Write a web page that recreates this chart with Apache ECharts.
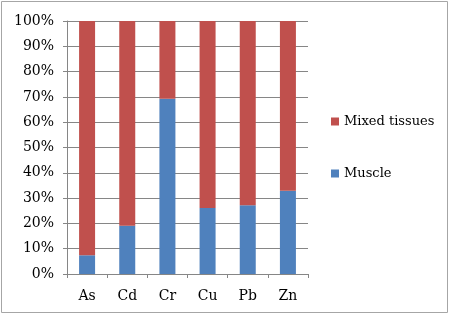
<!DOCTYPE html>
<html>
<head>
<meta charset="utf-8">
<script src="https://cdn.jsdelivr.net/npm/echarts@6/dist/echarts.min.js"></script>
<style>
  html, body { margin: 0; padding: 0; background: #fff; }
  #chart { width: 450px; height: 315px; }
</style>
</head>
<body>
<div id="chart"></div>
<script>
const categories = ["As", "Cd", "Cr", "Cu", "Pb", "Zn"];
const muscle = [7.4, 19.1, 69.3, 26.1, 27.2, 32.9];
const mixedTissues = muscle.map((v) => +(100 - v).toFixed(1));
const yTicks = [0, 10, 20, 30, 40, 50, 60, 70, 80, 90, 100];

const font = "DejaVu Serif";
const chart = echarts.init(document.getElementById("chart"));

chart.setOption({
  animation: false,
  graphic: [
    {
      type: "rect",
      shape: { x: 1.5, y: 1.5, width: 446, height: 311 },
      style: { fill: "none", stroke: "#a6a6a6", lineWidth: 1 },
    },
  ],
  grid: { left: 67, right: 142, top: 21, bottom: 41 },
  legend: {
    orient: "vertical",
    left: 326,
    top: 110,
    itemGap: 39,
    itemWidth: 8,
    itemHeight: 8,
    icon: "rect",
    textStyle: { fontFamily: font, fontSize: 13, color: "#000" },
    data: ["Mixed tissues", "Muscle"],
  },
  xAxis: {
    type: "category",
    data: categories,
    axisLine: { lineStyle: { color: "#868686" } },
    axisTick: { show: true, length: 4, lineStyle: { color: "#868686" } },
    axisLabel: { fontFamily: font, fontSize: 14, color: "#000", margin: 15 },
  },
  yAxis: {
    type: "value",
    min: yTicks[0],
    max: yTicks[yTicks.length - 1],
    interval: 10,
    axisLine: { show: true, lineStyle: { color: "#868686" } },
    axisTick: { show: true, length: 4, lineStyle: { color: "#868686" } },
    splitLine: { lineStyle: { color: "#868686" } },
    axisLabel: {
      fontFamily: font,
      fontSize: 14,
      color: "#000",
      margin: 13,
      formatter: (v) => v + "%",
    },
  },
  series: [
    {
      name: "Muscle",
      type: "bar",
      stack: "total",
      barWidth: 16,
      data: muscle,
      itemStyle: { color: "#4f81bd" },
    },
    {
      name: "Mixed tissues",
      type: "bar",
      stack: "total",
      barWidth: 16,
      data: mixedTissues,
      itemStyle: { color: "#c0504d" },
    },
  ],
});
</script>
</body>
</html>
